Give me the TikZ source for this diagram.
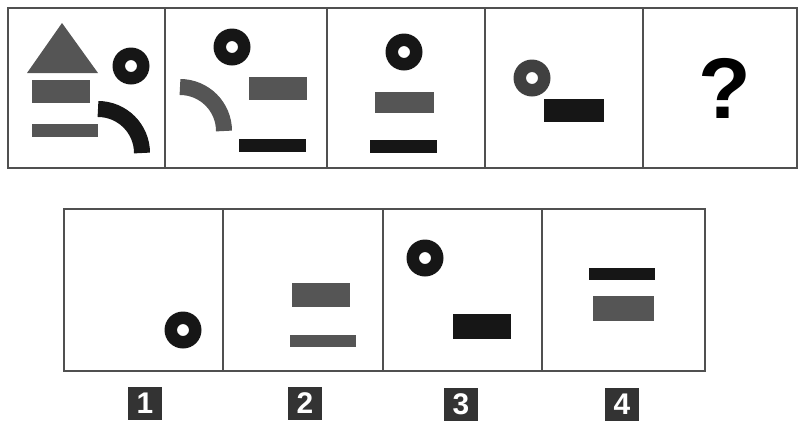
\documentclass[tikz,border=0pt]{standalone}
\usepackage{fontspec}
\setsansfont{Liberation Sans}
\usetikzlibrary{math}
\definecolor{shapegray}{RGB}{85,85,85}
\definecolor{shapeblack}{RGB}{22,22,22}
\definecolor{framegray}{RGB}{80,80,80}
\tikzset{
  frame/.style={draw=framegray, line width=0.9pt},
  grayshape/.style={fill=shapegray},
  blackshape/.style={fill=shapeblack},
  band/.style={line width=0.32cm},
  numbox/.style={fill=black!80, text=white, minimum width=0.68cm, minimum height=0.66cm,
    inner sep=0pt, font=\sffamily\bfseries\fontsize{17}{17}\selectfont},
}
\newcommand{\ring}[3]{\fill[#3, even odd rule] (#1,#2) circle (18.5) (#1,#2) circle (6);}

\begin{document}
\begin{tikzpicture}[x=0.02cm, y=-0.02cm]
\tikzmath{
\ty=8; \by=168;
\uy=209; \ly=371;
}
\useasboundingbox (0,0) rectangle (798,423);
%top row frames
\draw[frame] (8,\ty) rectangle (797,\by);
\foreach \xd in {165,327,485,643}
  \draw[frame] (\xd,\ty) -- (\xd,\by);

%panel 1
\fill[grayshape] (62,23) -- (98,73) -- (27,73) -- cycle;
\fill[grayshape] (32,80) rectangle (90,103);
\fill[grayshape] (32,124) rectangle (98,137);
\ring{131}{66}{shapeblack}
\draw[band, shapeblack] (98,109) arc(270:360:44);

%panel 2
\ring{232}{47}{shapeblack}
\draw[band, shapegray] (180,87) arc(270:360:44);
\fill[grayshape] (249,77) rectangle (307,100);
\fill[blackshape] (239,139) rectangle (306,152);

%panel 3
\ring{404}{52}{shapeblack}
\fill[grayshape] (375,92) rectangle (434,113);
\fill[blackshape] (370,140) rectangle (437,153);

%panel 4
\ring{532}{78}{black!75}
\fill[blackshape] (544,99) rectangle (604,122);

%panel 5
\node (qmark) at (725,88) {\sffamily\bfseries\fontsize{49}{49}\selectfont ?};

%answer frames
\draw[frame] (64,\uy) rectangle (705,\ly);
\foreach \xd in {223,383,542}
  \draw[frame] (\xd,\uy) -- (\xd,\ly);

%option 1
\ring{183}{330}{shapeblack}

%option 2
\fill[grayshape] (292,283) rectangle (350,307);
\fill[grayshape] (290,335) rectangle (356,347);

%option 3
\ring{425}{258}{shapeblack}
\fill[blackshape] (453,314) rectangle (511,339);

%option 4
\fill[blackshape] (589,268) rectangle (655,280);
\fill[grayshape] (593,296) rectangle (654,321);

%labels
\node[numbox] (opt1) at (145,403) {1};
\node[numbox] (opt2) at (305,403) {2};
\node[numbox] (opt3) at (461,404) {3};
\node[numbox] (opt4) at (622,404) {4};
\end{tikzpicture}
\end{document}
